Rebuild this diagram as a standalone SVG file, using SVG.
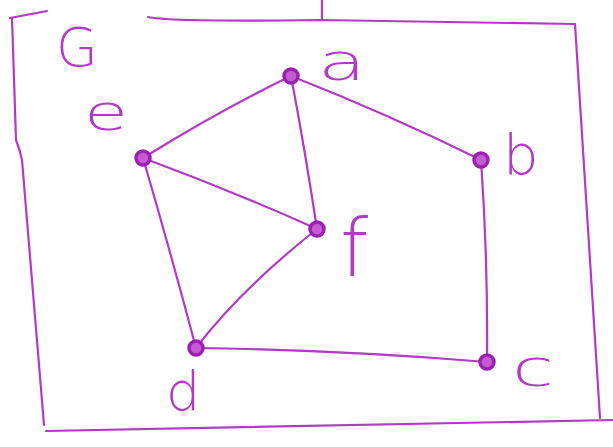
<svg xmlns="http://www.w3.org/2000/svg" width="613" height="447" viewBox="0 0 613 447">
<style>
.ln{fill:none;stroke:#b23ac6;stroke-width:2.2;stroke-linecap:round;stroke-linejoin:round}
.nd{fill:#c45bd4;stroke:#9a22b0;stroke-width:3.5}
.lb{font-family:"DejaVu Sans",sans-serif;fill:#b23ac6;font-weight:300}
</style>
<rect width="613" height="447" fill="#fff"/>
<g id="frame" class="ln">
<path d="M10,18 L47,11"/>
<path d="M12,18 L16,140 Q20,150 22,160 L44,425"/>
<path d="M46,431 L613,420"/>
<path d="M148,17 Q170,22 320,20 L575,24"/>
<path d="M322,0 L322,19"/>
<path d="M575,24 L600,418"/>
</g>
<g id="connectors" class="ln">
<path d="M291,76 Q220,110 143,158"/>
<path d="M291,76 Q305,150 317,229"/>
<path d="M291,76 Q390,115 481,160"/>
<path d="M143,158 Q230,190 317,229"/>
<path d="M143,158 Q170,250 196,348"/>
<path d="M317,229 Q240,290 196,348"/>
<path d="M196,348 Q340,350 487,362"/>
<path d="M481,160 Q488,260 487,362"/>
</g>
<g id="node-a"><circle class="nd" cx="291" cy="76" r="7"/><text class="lb" x="318" y="80" font-size="52" textLength="48" lengthAdjust="spacingAndGlyphs">a</text></g>
<g id="node-b"><circle class="nd" cx="481" cy="160" r="7"/><text class="lb" x="503" y="174" font-size="56">b</text></g>
<g id="node-c"><circle class="nd" cx="487" cy="362" r="7"/><text class="lb" x="512" y="386" font-size="52" textLength="42" lengthAdjust="spacingAndGlyphs">c</text></g>
<g id="node-d"><circle class="nd" cx="196" cy="348" r="7"/><text class="lb" x="166" y="410" font-size="54">d</text></g>
<g id="node-e"><circle class="nd" cx="143" cy="158" r="7"/><text class="lb" x="84" y="130" font-size="50" textLength="44" lengthAdjust="spacingAndGlyphs">e</text></g>
<g id="node-f"><circle class="nd" cx="317" cy="229" r="7"/><text class="lb" x="340" y="276" font-size="80">f</text></g>
<g id="label-G"><text class="lb" x="56" y="66" font-size="54">G</text></g>
</svg>
